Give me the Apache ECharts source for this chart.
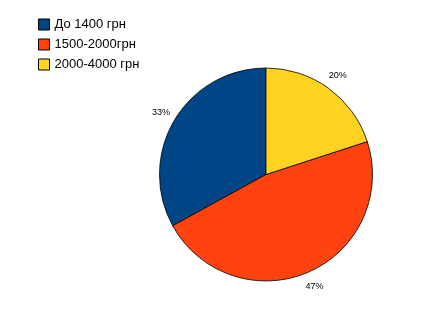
<!DOCTYPE html>
<html><head><meta charset="utf-8">
<script src="https://cdn.jsdelivr.net/npm/echarts@6/dist/echarts.min.js"></script>
<style>html,body{margin:0;padding:0;background:#fff}#c{width:425px;height:329px}</style>
</head><body><div id="c"></div>
<script>
const categories = ['До 1400 грн', '1500-2000грн', '2000-4000 грн'];
const values = [33, 47, 20];
const colors = ['#004586', '#ff420e', '#ffd320'];

const chart = echarts.init(document.getElementById('c'), null, {renderer: 'canvas'});
const mainData = categories.map((n, i) => ({name: n, value: values[i], itemStyle: {color: colors[i]}}));
const labelData = categories.map((n, i) => ({name: n, value: values[i]}));
chart.setOption({
  animation: false,
  backgroundColor: '#fff',
  legend: {
    data: categories,
    orient: 'vertical',
    left: 33, top: 13,
    icon: 'rect',
    itemWidth: 11, itemHeight: 11, itemGap: 7,
    itemStyle: {borderColor: '#000', borderWidth: 1},
    textStyle: {fontFamily: 'Liberation Sans', fontSize: 13, color: '#000'}
  },
  series: [
    {
      type: 'pie', center: [266, 174.5], radius: [0, 106.5],
      startAngle: 90, clockwise: false,
      label: {show: false}, labelLine: {show: false},
      itemStyle: {borderColor: '#000', borderWidth: 0.8},
      emphasis: {disabled: true},
      data: mainData
    },
    {
      type: 'pie', center: [266, 174.5], radius: [107, 131],
      startAngle: 90, clockwise: false, silent: true,
      legendHoverLink: false,
      itemStyle: {color: 'rgba(0,0,0,0)'},
      label: {show: true, position: 'inside', formatter: '{c}%', fontFamily: 'Liberation Sans', fontSize: 9, color: '#000'},
      labelLine: {show: false},
      emphasis: {disabled: true},
      data: labelData
    }
  ]
});
</script></body></html>
